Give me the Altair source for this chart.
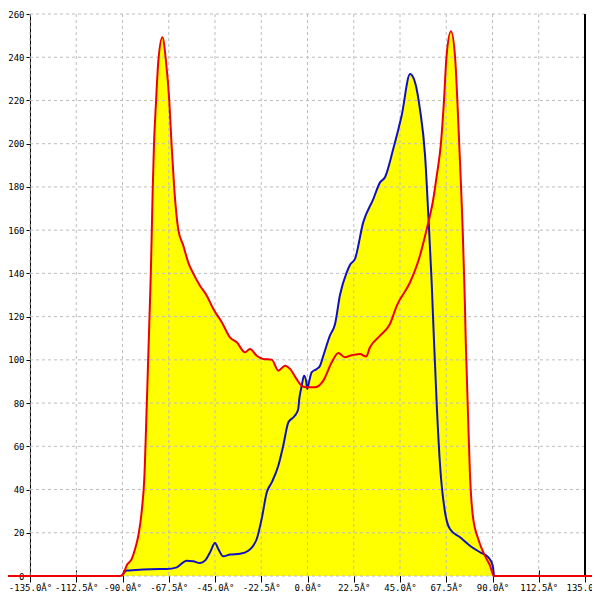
import altair as alt
import pandas as pd

# Red series (angle in degrees, value)
red_angle = [-160, -91.2, -89.6, -88.0, -85.5, -83.9, -82.3, -80.7, -79.4, -78.1, -76.6,
             -76.3, -75.8, -75.3, -74.7, -73.7, -72.6, -70.6, -68.8, -67.2, -66.1, -64.8,
             -62.9, -60.4, -58.0, -55.6, -52.3, -49.0, -45.8, -41.7, -37.7, -34.4, -30.4,
             -28.0, -24.7, -21.5, -17.4, -14.2, -10.9, -8.5, -5.3, -2.8, -0.4, 3.6, 7.7,
             11.8, 15.0, 18.2, 20.7, 25.5, 28.5, 30.4, 35.3, 40.1, 43.4, 49.9, 54.7,
             58.0, 61.2, 63.0, 64.8, 66.4, 67.6, 69.8, 71.8, 72.9, 73.8, 74.7, 75.5,
             76.1, 76.6, 77.0, 77.4, 78.2, 79.0, 80.4, 83.1, 86.3, 88.8, 90.7, 160]
red_value = [0, 0, 1, 4.8, 7.9, 12.5, 18.6, 29.5, 45, 82, 128,
             137.4, 157.4, 179, 199, 219.2, 237.7, 249.2, 237.7, 219.2, 199, 179,
             160.5, 152.8, 145, 140, 134.3, 129.7, 123.5, 117.4, 110.4, 108.1, 103.5,
             105, 101.9, 100.4, 100.1, 95, 97.3, 95.8, 91.1, 88, 87.3, 87.3, 90.4,
             98.9, 103.2, 101.2, 101.9, 102.7, 101.5, 105.8, 111.2, 116.6, 125, 135.9, 148.2,
             160.5, 174.4, 186, 199, 220, 240, 252, 240, 220, 200, 180, 160,
             141, 125, 108, 96, 71, 48, 28, 17, 9.4, 4.8, 0, 0]

# Blue series
blue_angle = [-90.2, -88.0, -80.0, -72.0, -68.5, -63.6, -58.8, -55.6, -52.3, -49.9, -47.4,
              -45.0, -43.4, -41.0, -37.7, -32.8, -28.8, -26.4, -24.7, -22.3, -19.8, -17.4,
              -14.2, -11.8, -9.3, -6.1, -4.5, -4.0, -2.8, -1.7, -0.7, -0.1, 0.9, 2.0, 4.5,
              6.1, 7.7, 10.9, 13.4, 15.8, 19.1, 20.7, 23.1, 27.1, 32.0, 35.3, 37.7, 41.7,
              45.8, 49.9, 52.3, 54.7, 57.2, 58.8, 60.4, 61.5, 62.9, 64.5, 66.9, 69.3,
              74.2, 79.0, 83.9, 88.0, 90.1, 90.7]
blue_value = [0, 2.5, 3, 3.2, 3.2, 4, 7.1, 6.8, 6, 7.1, 11,
              15.3, 12.5, 9.1, 9.9, 10.3, 11.7, 14, 17.1, 26.4, 38.7, 43.3,
              51, 60.3, 71.1, 74.2, 77.3, 81.9, 88, 92.7, 90.4, 86.5, 90.4, 94.2, 95.8,
              97.3, 101.9, 111.2, 116.6, 130, 140.5, 144, 146.7, 163.6, 174.4, 182.1, 184.5, 197.5,
              213, 232.2, 228.4, 216, 194.5, 166.7, 135.9, 109.6, 78.8, 51, 29.5, 21.7,
              17.9, 14, 11, 8.6, 4.8, 0]

x_ticks = [-135, -112.5, -90, -67.5, -45, -22.5, 0, 22.5, 45, 67.5, 90, 112.5, 135]
y_ticks = [0, 20, 40, 60, 80, 100, 120, 140, 160, 180, 200, 220, 240, 260]

red_df = pd.DataFrame({"angle": red_angle, "value": red_value})
blue_df = pd.DataFrame({"angle": blue_angle, "value": blue_value})
xgrid_df = pd.DataFrame({"angle": x_ticks})
ygrid_df = pd.DataFrame({"value": y_ticks})

FONT = "DejaVu Sans Mono"

x_scale = alt.Scale(domain=[-135, 135], nice=False, zero=False)
y_scale = alt.Scale(domain=[0, 260], nice=False)

x_axis = alt.Axis(
    values=x_ticks, grid=False, title=None, domain=False, offset=-6,
    tickSize=12, tickColor="black", labelPadding=1.5, labelOverlap=False,
    labelFlush=False, labelFont=FONT, labelFontSize=9, labelColor="black",
    labelExpr="(datum.value < 0 ? '-' : '') + format(abs(datum.value), '.1f') + '\u00c2\u00b0'",
)
y_axis = alt.Axis(
    values=y_ticks, grid=False, title=None, domain=True, domainColor="black",
    tickSize=4, tickColor="black", labelPadding=2, format="d",
    labelFont=FONT, labelFontSize=9, labelColor="black", labelOverlap=False,
)

X = alt.X("angle:Q", scale=x_scale, axis=x_axis)
Y = alt.Y("value:Q", scale=y_scale, axis=y_axis)

red_area = alt.Chart(red_df).mark_area(color="#ffff00", interpolate="monotone").encode(x=X, y=Y)
blue_area = alt.Chart(blue_df).mark_area(color="#ffff00", interpolate="monotone").encode(x=X, y=Y)

xgrid = alt.Chart(xgrid_df).mark_rule(color="#bdbdbd", strokeDash=[3, 3], strokeWidth=1).encode(x=X)
ygrid = alt.Chart(ygrid_df).mark_rule(color="#bdbdbd", strokeDash=[3, 3], strokeWidth=1).encode(y=Y)

right_edge = alt.Chart(xgrid_df).mark_rule(color="black", strokeWidth=1).encode(
    x=alt.datum(135, scale=x_scale, axis=x_axis),
    y=alt.datum(0, scale=y_scale, axis=y_axis),
    y2=alt.datum(260),
)

red_line = alt.Chart(red_df).mark_line(color="#ee0000", strokeWidth=2, interpolate="monotone").encode(x=X, y=Y)
blue_line = alt.Chart(blue_df).mark_line(color="#1010c0", strokeWidth=2, interpolate="monotone").encode(x=X, y=Y)

chart = alt.layer(
    red_area, blue_area, xgrid, ygrid, right_edge, blue_line, red_line
).properties(
    width=555, height=562,
    autosize=alt.AutoSizeParams(type="none"),
    padding={"left": 22, "top": 6, "right": 7, "bottom": 16},
).configure_view(stroke=None)

chart.save("out.html", embed_options={"renderer": "svg", "actions": False})
